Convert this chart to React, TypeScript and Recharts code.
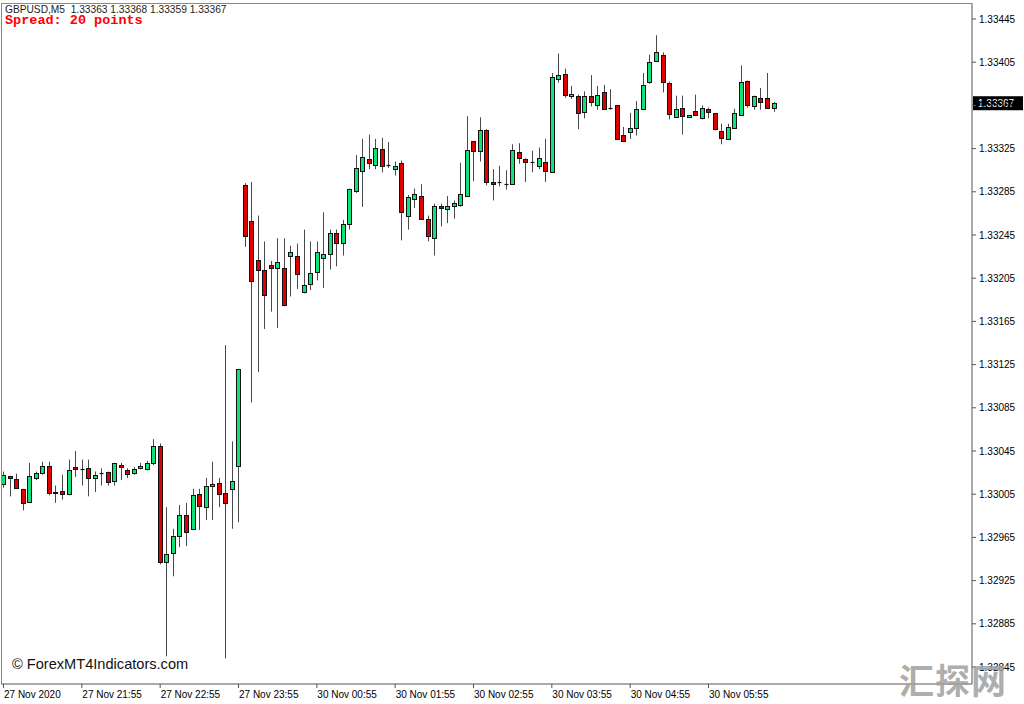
import { ComposedChart, Bar, XAxis, YAxis, ReferenceLine } from 'recharts'

// GBPUSD M5, 27 Nov 20:55 -> 30 Nov 06:50 (values in 1e-5 points)
const opens = [
  133014, 133022, 133019, 133010, 132998, 133020, 133025, 133031, 133006, 133008,
  133005, 133030, 133028, 133029, 133020, 133025, 133026, 133017, 133032, 133027,
  133025, 133029, 133028, 133034, 133050, 132942, 132951, 132966, 132986, 132973,
  133005, 132993, 133013, 133015, 133006, 133010, 133031, 133291, 133258, 133222,
  133213, 133217, 133214, 133214, 133226, 133226, 133192, 133200, 133211, 133224,
  133227, 133247, 133238, 133255, 133286, 133304, 133315, 133310, 133325, 133310,
  133306, 133312, 133263, 133278, 133281, 133260, 133242, 133272, 133269, 133272,
  133273, 133281, 133332, 133323, 133342, 133294, 133294, 133292, 133292, 133322,
  133315, 133313, 133309, 133313, 133303, 133389, 133394, 133374, 133374, 133359,
  133374, 133365, 133377, 133363, 133365, 133338, 133340, 133344, 133362, 133387,
  133406, 133412, 133386, 133354, 133363, 133354, 133360, 133353, 133362, 133358,
  133341, 133334, 133344, 133356, 133388, 133364, 133372, 133372, 133363,
]
const highs = [
  133026, 133022, 133024, 133010, 133034, 133026, 133035, 133035, 133013, 133023,
  133037, 133045, 133037, 133037, 133026, 133029, 133026, 133034, 133034, 133029,
  133030, 133034, 133036, 133056, 133052, 132993, 132973, 132995, 132997, 133010,
  133010, 133020, 133035, 133020, 133143, 133054, 133121, 133293, 133294, 133263,
  133239, 133221, 133242, 133242, 133235, 133237, 133250, 133239, 133239, 133266,
  133250, 133250, 133259, 133288, 133319, 133334, 133338, 133334, 133335, 133331,
  133313, 133314, 133282, 133288, 133292, 133263, 133274, 133274, 133281, 133277,
  133312, 133355, 133332, 133354, 133343, 133306, 133309, 133305, 133329, 133330,
  133316, 133323, 133326, 133334, 133395, 133413, 133399, 133383, 133375, 133378,
  133393, 133383, 133384, 133380, 133365, 133345, 133358, 133369, 133395, 133412,
  133430, 133414, 133387, 133374, 133374, 133356, 133375, 133365, 133363, 133358,
  133348, 133348, 133362, 133402, 133388, 133374, 133381, 133395, 133368,
]
const lows = [
  133011, 133003, 133010, 132990, 132997, 133018, 133023, 133004, 132997, 133000,
  133004, 133021, 133013, 133003, 133007, 133013, 133013, 133013, 133018, 133020,
  133023, 133028, 133027, 133032, 132940, 132855, 132929, 132956, 132957, 132972,
  132972, 132981, 132981, 132993, 132853, 132973, 132979, 133234, 133090, 133118,
  133158, 133174, 133159, 133179, 133188, 133195, 133191, 133194, 133203, 133196,
  133213, 133216, 133226, 133250, 133284, 133271, 133306, 133306, 133303, 133307,
  133300, 133240, 133250, 133270, 133260, 133239, 133226, 133253, 133256, 133260,
  133271, 133281, 133295, 133313, 133291, 133277, 133290, 133287, 133292, 133311,
  133294, 133303, 133306, 133294, 133303, 133386, 133372, 133371, 133343, 133353,
  133364, 133361, 133361, 133361, 133334, 133332, 133334, 133337, 133361, 133385,
  133405, 133377, 133352, 133354, 133338, 133354, 133355, 133352, 133353, 133342,
  133329, 133334, 133343, 133356, 133363, 133361, 133361, 133362, 133359,
]
const closes = [
  133023, 133020, 133011, 132997, 133022, 133025, 133031, 133006, 133007, 133005,
  133027, 133028, 133028, 133020, 133023, 133025, 133016, 133034, 133030, 133024,
  133028, 133031, 133034, 133050, 132942, 132950, 132966, 132986, 132970, 133004,
  132994, 133013, 133014, 133005, 132997, 133017, 133121, 133244, 133202, 133213,
  133189, 133214, 133220, 133180, 133229, 133209, 133199, 133210, 133229, 133227,
  133247, 133238, 133255, 133288, 133307, 133317, 133312, 133326, 133309, 133310,
  133309, 133266, 133280, 133283, 133260, 133244, 133272, 133270, 133272, 133275,
  133283, 133324, 133323, 133342, 133294, 133292, 133294, 133292, 133324, 133316,
  133313, 133313, 133316, 133304, 133391, 133393, 133375, 133376, 133358, 133374,
  133368, 133375, 133362, 133363, 133334, 133332, 133344, 133362, 133384, 133405,
  133414, 133387, 133357, 133362, 133355, 133356, 133356, 133363, 133359, 133343,
  133335, 133345, 133358, 133387, 133365, 133374, 133368, 133363, 133367,
]

const timeTicks = [0, 12, 24, 36, 48, 60, 72, 84, 96, 108]
const timeLabels = [
  '27 Nov 2020', '27 Nov 21:55', '27 Nov 22:55', '27 Nov 23:55', '30 Nov 00:55',
  '30 Nov 01:55', '30 Nov 02:55', '30 Nov 03:55', '30 Nov 04:55', '30 Nov 05:55',
]
const priceTicks = [
  1.32845, 1.32885, 1.32925, 1.32965, 1.33005, 1.33045, 1.33085, 1.33125,
  1.33165, 1.33205, 1.33245, 1.33285, 1.33325, 1.33365, 1.33405, 1.33445,
]
const symbol = 'GBPUSD,M5'
const spreadPoints = 20

const P = 100000
const data = opens.map((o, i) => ({
  idx: i,
  open: o / P,
  high: highs[i] / P,
  low: lows[i] / P,
  close: closes[i] / P,
  range: [lows[i] / P, highs[i] / P],
}))
const last = data[data.length - 1]

const BULL = '#10e27a'
const BEAR = '#e00000'
const FONT = '"Liberation Sans", Arial, sans-serif'

function Candle(props: any) {
  const { x, y, width, height, payload } = props
  if (x == null || y == null) return null
  const cx = Math.round(x + width / 2) + 0.5
  const top = Math.min(y, y + height)
  const h = Math.abs(height)
  const span = payload.high - payload.low || 1e-9
  const py = (v: number) => top + ((payload.high - v) / span) * h
  const oy = py(payload.open)
  const cy = py(payload.close)
  const bull = payload.close >= payload.open
  const bTop = Math.round(Math.min(oy, cy)) + 0.5
  const bBot = Math.round(Math.max(oy, cy)) + 0.5
  return (
    <g>
      <line x1={cx} x2={cx} y1={top} y2={top + h} stroke="#4a4a4a" strokeWidth={1} />
      {bBot - bTop < 1 ? (
        <line x1={cx - 2} x2={cx + 2} y1={bTop} y2={bTop} stroke="#111" strokeWidth={1.2} />
      ) : (
        <rect x={cx - 2} y={bTop} width={4} height={bBot - bTop} fill={bull ? BULL : BEAR} stroke="#111" strokeWidth={1} />
      )}
    </g>
  )
}

function TimeTick(props: any) {
  const { x, y, payload } = props
  const k = timeTicks.indexOf(payload.value)
  return (
    <g>
      <line x1={x + 0.5} x2={x + 0.5} y1={y - 8} y2={y - 4} stroke="#555" />
      <text x={x + 1} y={y + 6} fontSize={10} fontFamily={FONT} fill="#000">
        {timeLabels[k]}
      </text>
    </g>
  )
}

function PriceTag(props: any) {
  const vb = props.viewBox || {}
  const x0 = vb.x + vb.width + 1
  const y0 = vb.y
  return (
    <g>
      <rect x={x0} y={y0 - 7} width={50} height={14} fill="#000" />
      <text x={x0 + 5} y={y0 + 4} fontSize={10} fontFamily={FONT} fill="#fff">
        {last.close.toFixed(5)}
      </text>
    </g>
  )
}

export default function App() {
  return (
    <div style={{ position: 'absolute', left: 0, top: 0, width: 1024, height: 704, background: '#fff', overflow: 'hidden' }}>
      <ComposedChart
        width={1024}
        height={704}
        data={data}
        margin={{ top: 3, right: 0, left: 1, bottom: 0 }}
      >
        <XAxis
          dataKey="idx"
          type="number"
          domain={[-0.306, 148.44]}
          allowDataOverflow
          ticks={timeTicks}
          interval={0}
          height={20}
          tick={<TimeTick />}
          tickLine={false}
          axisLine={{ stroke: '#555' }}
        />
        <YAxis
          orientation="right"
          type="number"
          domain={[1.3282926, 1.334598]}
          allowDataOverflow
          ticks={priceTicks}
          interval={0}
          width={52}
          tickSize={4}
          tickLine={{ stroke: '#555' }}
          axisLine={{ stroke: '#555' }}
          tick={{ fontSize: 10, fontFamily: FONT, fill: '#000', textAnchor: 'start', dx: 1 }}
          tickFormatter={(v: number) => v.toFixed(5)}
        />
        <Bar dataKey="range" barSize={5} shape={<Candle />} isAnimationActive={false} />
        <ReferenceLine y={last.close} stroke="none" label={<PriceTag />} />
      </ComposedChart>
      <div style={{ position: 'absolute', left: 1, top: 3, width: 970, height: 680, borderLeft: '1px solid #888', borderTop: '1px solid #888', pointerEvents: 'none' }} />
      <div style={{ position: 'absolute', left: 5, top: 4, fontSize: 10.2, fontFamily: FONT, color: '#222', whiteSpace: 'pre' }}>
        {`${symbol}  ${last.open.toFixed(5)} ${last.high.toFixed(5)} ${last.low.toFixed(5)} ${last.close.toFixed(5)}`}
      </div>
      <div style={{ position: 'absolute', left: 5, top: 13, fontSize: 13.5, fontWeight: 'bold', fontFamily: '"Liberation Mono", "Courier New", monospace', color: '#f00', whiteSpace: 'pre' }}>
        {`Spread: ${spreadPoints} points`}
      </div>
      <div style={{ position: 'absolute', left: 12, top: 656, fontSize: 14.6, fontFamily: FONT, color: '#111' }}>
        © ForexMT4Indicators.com
      </div>
      <div style={{ position: 'absolute', left: 899, top: 657, fontSize: 35, fontWeight: 'bold', fontFamily: '"Noto Sans CJK SC", sans-serif', color: 'rgba(160,160,160,0.85)', lineHeight: '44px', letterSpacing: 1 }}>
        汇探网
      </div>
    </div>
  )
}
